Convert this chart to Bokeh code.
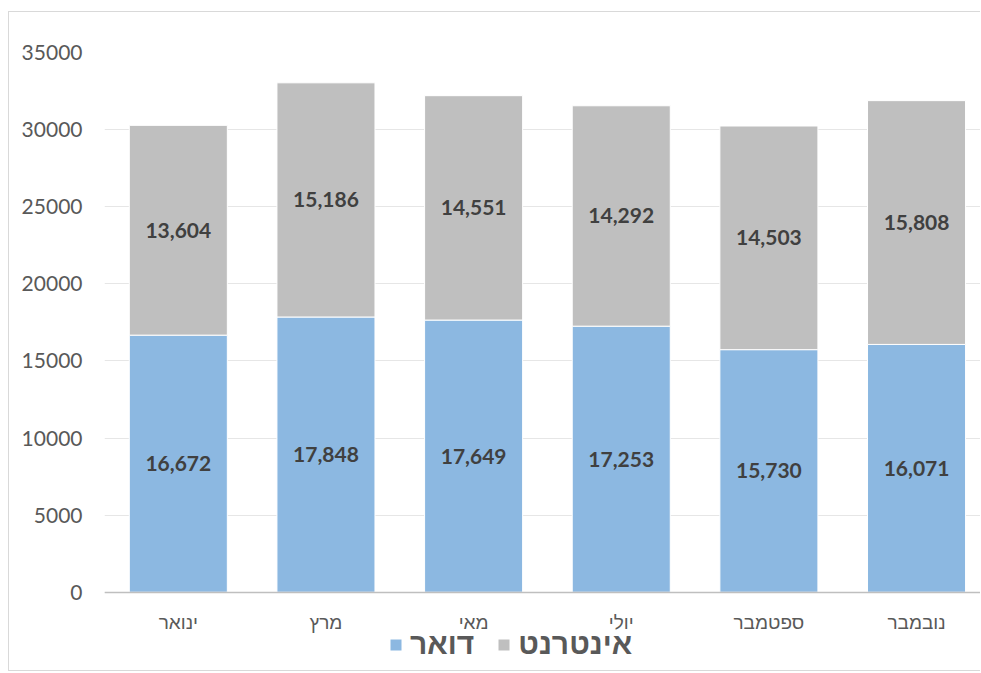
from bokeh.plotting import figure
from bokeh.models import Range1d, FixedTicker, Legend, LegendItem, ColumnDataSource, NumeralTickFormatter
from bokeh.core.properties import value
from bokeh.embed import file_html
from bokeh.resources import INLINE

months = ["ינואר", "מרץ", "מאי", "יולי", "ספטמבר", "נובמבר"]
post = [16672, 17848, 17649, 17253, 15730, 16071]
internet = [13604, 15186, 14551, 14292, 14503, 15808]
y_ticks = [0, 5000, 10000, 15000, 20000, 25000, 30000, 35000]
series_names = ["דואר", "אינטרנט"]

xs = list(range(len(months)))
tops = [a + b for a, b in zip(post, internet)]
src = ColumnDataSource(dict(
    x=xs, post=post, internet=internet, top=tops,
    post_mid=[a / 2 for a in post],
    int_mid=[a + b / 2 for a, b in zip(post, internet)],
    post_lbl=[f"{v:,}" for v in post],
    int_lbl=[f"{v:,}" for v in internet],
))

p = figure(width=972, height=660, output_backend="svg", toolbar_location=None,
           x_range=Range1d(-0.5, 5.44), y_range=Range1d(-5204, 35000),
           min_border_left=95, min_border_right=0, min_border_top=40, min_border_bottom=0,
           outline_line_color=None, background_fill_color="white")
p.styles = {"border-top": "1px solid #d9d9d9", "border-left": "1px solid #d9d9d9",
            "border-bottom": "1px solid #d9d9d9",
            "margin-left": "8px", "margin-top": "11px"}

bw = 0.664
r1 = p.vbar(x="x", bottom=0, top="post", width=bw, source=src,
            fill_color="#8cb8e1", line_color="white", line_width=1)
r2 = p.vbar(x="x", bottom="post", top="top", width=bw, source=src,
            fill_color="#bfbfbf", line_color="white", line_width=1)

for col, ycol in (("post_lbl", "post_mid"), ("int_lbl", "int_mid")):
    p.text(x="x", y=ycol, text=col, source=src, text_align="center", text_baseline="middle",
           text_font=value("Lato"), text_font_style="bold", text_font_size="21px",
           text_color="#404040")

p.xaxis.fixed_location = 0
p.xaxis.ticker = FixedTicker(ticks=xs)
p.xaxis.major_label_overrides = {i: m for i, m in enumerate(months)}
p.xaxis.major_label_text_font = "Liberation Sans"
p.xaxis.major_label_text_font_size = "19px"
p.xaxis.major_label_text_color = "#595959"
p.xaxis.major_label_standoff = 20
p.xaxis.major_tick_line_color = None
p.xaxis.major_tick_out = 0
p.xaxis.minor_tick_line_color = None
p.xaxis.minor_tick_out = 0
p.xaxis.axis_line_color = "#bfbfbf"
p.xaxis.axis_line_width = 1.5
p.xgrid.grid_line_color = None

p.yaxis.ticker = FixedTicker(ticks=y_ticks)
p.yaxis.formatter = NumeralTickFormatter(format="0")
p.yaxis.major_label_text_font = "Lato"
p.yaxis.major_label_text_font_size = "21px"
p.yaxis.major_label_text_color = "#595959"
p.yaxis.major_label_standoff = 16
p.yaxis.major_tick_line_color = None
p.yaxis.minor_tick_line_color = None
p.yaxis.axis_line_color = None
p.ygrid.grid_line_color = "#e6e6e6"
p.ygrid.grid_line_width = 1

legend = Legend(items=[LegendItem(label=series_names[0], renderers=[r1]),
                       LegendItem(label=series_names[1], renderers=[r2])],
                orientation="horizontal", location=(284, 11),
                label_text_font="Liberation Sans", label_text_font_style="bold",
                label_text_font_size="30px", label_text_color="#595959",
                glyph_width=15, glyph_height=15, spacing=22, label_standoff=7,
                border_line_color=None, background_fill_alpha=0, padding=0, margin=0)
p.add_layout(legend, "center")

open("out.html", "w").write(file_html(p, INLINE))
